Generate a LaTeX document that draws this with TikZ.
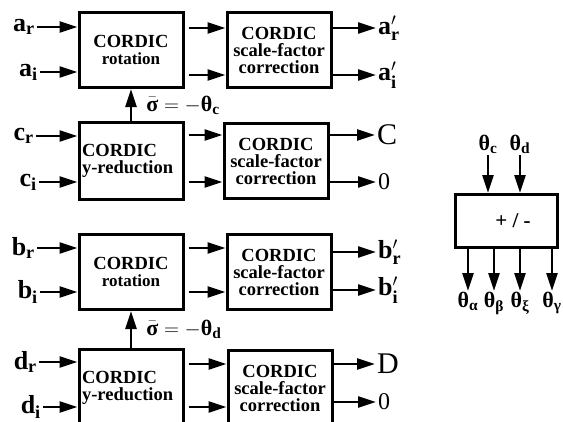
\documentclass[tikz,border=0pt]{standalone}
\usepackage{amsmath}
\usepackage{fontspec}
\setmainfont{Liberation Serif}
\usetikzlibrary{arrows.meta, positioning}

\begin{document}
\begin{tikzpicture}
    [x=1pt, y=-1pt, node distance=147pt,
    block/.style={rectangle, draw, line width=3pt, minimum width=104pt, minimum height=75pt,
    inner sep=2pt, align=center, font=\bfseries\fontsize{18.5}{17}\selectfont},
    rotation/.style={block},
    reduction/.style={block, text width=98pt, align=left, inner sep=3pt, minimum height=77pt},
    scalefac/.style={block},
    sig/.style={inner sep=2pt, font=\bfseries\fontsize{26}{26}\selectfont},
    result/.style={inner sep=2pt, font=\fontsize{30}{30}\selectfont},
    angle/.style={inner sep=1pt, font=\bfseries\fontsize{22}{22}\selectfont},
    arrow/.style={line width=2.6pt, ->, >={Triangle[length=18pt, width=11pt]}}]
    \useasboundingbox (0,0) rectangle (563,421);

    % CORDIC blocks
    \node [rotation] (arot) at (131,50) {CORDIC\\{\fontsize{17}{17}\selectfont rotation}};
    \node [scalefac, right of=arot, node distance=148pt] (ascale) {CORDIC\\scale-factor\\correction};
    \node [reduction, below of=arot, node distance=111pt] (cred) {CORDIC\\y-reduction};
    \node [scalefac, right of=cred, node distance=145pt] (cscale) {CORDIC\\scale-factor\\correction};
    \node [rotation, below of=cred, node distance=111pt] (brot) {CORDIC\\{\fontsize{17}{17}\selectfont rotation}};
    \node [scalefac, right of=brot, node distance=148pt] (bscale) {CORDIC\\scale-factor\\correction};
    \node [reduction, below of=brot, node distance=116pt] (dred) {CORDIC\\y-reduction};
    \node [scalefac, right of=dred, node distance=149pt] (dscale) {CORDIC\\scale-factor\\correction};
    \node [block, minimum width=102pt, minimum height=53pt, font=\bfseries\fontsize{21}{21}\selectfont]
    (pm) at (506,221) {\hspace*{14pt}+ / -};

    % inputs
    \node [sig, anchor=east] (ar) at (37,27) {a$_{\text{r}}$};
    \node [sig, anchor=east] (ai) at (40,72) {a$_{\text{i}}$};
    \node [sig, anchor=east] (cr) at (36,136) {c$_{\text{r}}$};
    \node [sig, anchor=east] (ci) at (39,182) {c$_{\text{i}}$};
    \node [sig, anchor=east] (br) at (37,248) {b$_{\text{r}}$};
    \node [sig, anchor=east] (bi) at (40,292) {b$_{\text{i}}$};
    \node [sig, anchor=east] (dr) at (39,362) {d$_{\text{r}}$};
    \node [sig, anchor=east] (di) at (43,407) {d$_{\text{i}}$};

    % outputs
    \node [sig, anchor=west] (arp) at (376,28) {a$'_{\text{r}}$};
    \node [sig, anchor=west] (aip) at (376,75) {a$'_{\text{i}}$};
    \node [result, anchor=west] (cout) at (375,135) {C};
    \node [result, anchor=west, font=\fontsize{24}{24}\selectfont] (czero) at (376,182) {0};
    \node [sig, anchor=west] (brp) at (376,252) {b$'_{\text{r}}$};
    \node [sig, anchor=west] (bip) at (376,290) {b$'_{\text{i}}$};
    \node [result, anchor=west] (dout) at (375,364) {D};
    \node [result, anchor=west, font=\fontsize{24}{24}\selectfont] (dzero) at (376,402) {0};

    % angles
    \node [angle, anchor=south] (thc) at (488,155) {θ$_{\text{c}}$};
    \node [angle, anchor=south] (thd) at (520,155) {θ$_{\text{d}}$};
    \node [angle, anchor=north] (tha) at (468,291) {θ$_{\text{α}}$};
    \node [angle, anchor=north] (thb) at (494,291) {θ$_{\text{β}}$};
    \node [angle, anchor=north] (thx) at (520,291) {θ$_{\text{ξ}}$};
    \node [angle, anchor=north] (thg) at (552,291) {θ$_{\text{γ}}$};

    \draw [arrow] (ar) -- (ar -| arot.west);
    \draw [arrow] (ai) -- (ai -| arot.west);
    \draw [arrow] (cr) -- (cr -| cred.west);
    \draw [arrow] (ci) -- (ci -| cred.west);
    \draw [arrow] (br) -- (br -| brot.west);
    \draw [arrow] (bi) -- (bi -| brot.west);
    \draw [arrow] (dr) -- (dr -| dred.west);
    \draw [arrow] (di) -- (di -| dred.west);

    \draw [arrow, shorten <=4pt] (arot.east |- arp) -- (ascale.west |- arp);
    \draw [arrow, shorten <=4pt] (arot.east |- aip) -- (ascale.west |- aip);
    \draw [arrow, shorten <=4pt] (cred.east |- cout) -- (cscale.west |- cout);
    \draw [arrow, shorten <=4pt] (cred.east |- ci) -- (cscale.west |- ci);
    \draw [arrow, shorten <=4pt] (brot.east |- br) -- (bscale.west |- br);
    \draw [arrow, shorten <=4pt] (brot.east |- bi) -- (bscale.west |- bi);
    \draw [arrow, shorten <=4pt] (dred.east |- dout) -- (dscale.west |- dout);
    \draw [arrow, shorten <=4pt] (dred.east |- di) -- (dscale.west |- di);

    \draw [arrow] (ascale.east |- arp) -- (arp);
    \draw [arrow] (ascale.east |- aip) -- (aip);
    \draw [arrow] (cscale.east |- cout) -- (cout);
    \draw [arrow] (cscale.east |- czero) -- (czero);
    \draw [arrow] (bscale.east |- brp) -- (brp);
    \draw [arrow] (bscale.east |- bip) -- (bip);
    \draw [arrow] (dscale.east |- dout) -- (dout);
    \draw [arrow] (dscale.east |- dzero) -- (dzero);

    \draw [arrow] (cred) -- node [angle, anchor=west, xshift=13pt] {$\bar{\text{σ}}=-$θ$_{\text{c}}$} (arot);
    \draw [arrow] (dred) -- node [angle, anchor=west, xshift=13pt] {$\bar{\text{σ}}=-$θ$_{\text{d}}$} (brot);

    \draw [arrow] (thc) -- (thc |- pm.north);
    \draw [arrow] (thd) -- (thd |- pm.north);
    \draw [arrow] (pm.south -| tha) -- (tha);
    \draw [arrow] (pm.south -| thb) -- (thb);
    \draw [arrow] (pm.south -| thx) -- (thx);
    \draw [arrow] (pm.south -| thg) -- (thg);
\end{tikzpicture}
\end{document}
